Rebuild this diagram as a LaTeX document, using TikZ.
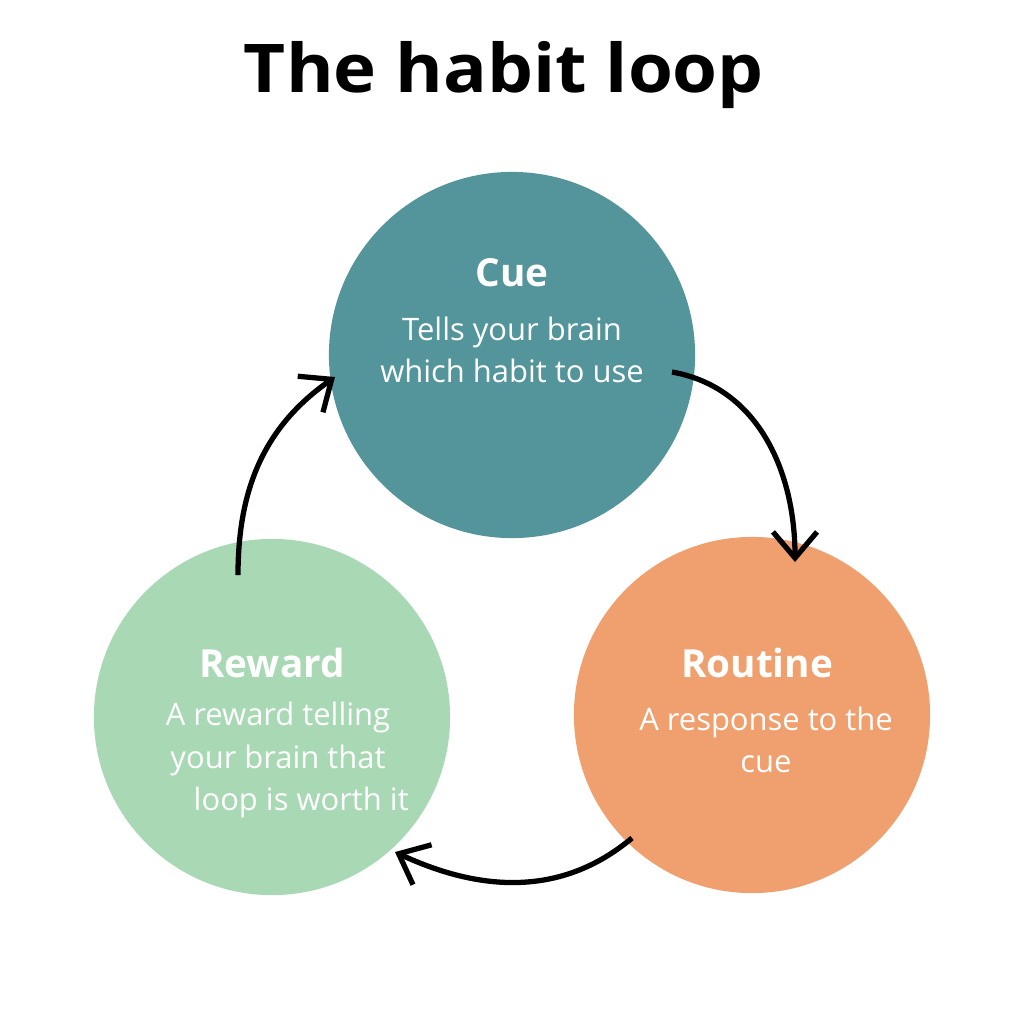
\documentclass[tikz,border=0pt]{standalone}
\usepackage{fontspec}
\setmainfont{Open Sans}
\usetikzlibrary{arrows.meta}
\definecolor{cueColor}{HTML}{53959B}
\definecolor{routineColor}{HTML}{EFA06E}
\definecolor{rewardColor}{HTML}{A9D8B5}
\tikzset{
    stage/.style={circle,draw=none,minimum size=3.56cm,inner sep=0pt},
    stagetitle/.style={white,font=\fontsize{11}{13}\selectfont\bfseries},
    stagetext/.style={white,font=\fontsize{8.8}{12}\selectfont,align=center},
    loop/.style={line width=1.5pt,-{Straight Barb[length=2.6mm,width=4.4mm,line width=1.5pt]}}
}
\begin{document}
\begin{tikzpicture}[x=0.01cm,y=-0.01cm]
    \useasboundingbox[fill=white] (0,0) rectangle (1024,1020);
    \node[font=\fontsize{19.5}{22}\selectfont\bfseries,xscale=1.06,yscale=0.98] (title) at (504,75) {The habit loop};

    \node[stage,fill=cueColor,minimum size=3.66cm] (cue) at (512,355) {};
    \node[stagetitle] (cueTitle) at (512,273) {Cue};
    \node[stagetext] (cueText) at (512,350) {Tells your brain\\which habit to use};

    \node[stage,fill=routineColor] (routine) at (752,715) {};
    \node[stagetitle] (routineTitle) at (757,663) {Routine};
    \node[stagetext] (routineText) at (766,740) {A response to the\\cue};

    \node[stage,fill=rewardColor] (reward) at (272,717) {};
    \node[stagetitle] (rewardTitle) at (272,663) {Reward};
    \node[stagetext] (rewardText) at (278,760) {A reward telling\\your brain that\\\hspace{1.5em}loop is worth it};

    \coordinate (cueOut) at (672,372);
    \coordinate (routineIn) at (795,562);
    \coordinate (routineOut) at (632,838);
    \coordinate (rewardIn) at (395,852);
    \coordinate (rewardOut) at (238,575);
    \coordinate (cueIn) at (335,377);

    \draw[loop] (cueOut) to[out=-10,in=90] (routineIn);
    \draw[loop] (routineOut) to[out=-140,in=-25] (rewardIn);
    \draw[loop] (rewardOut) to[out=90,in=-145] (cueIn);
\end{tikzpicture}
\end{document}
